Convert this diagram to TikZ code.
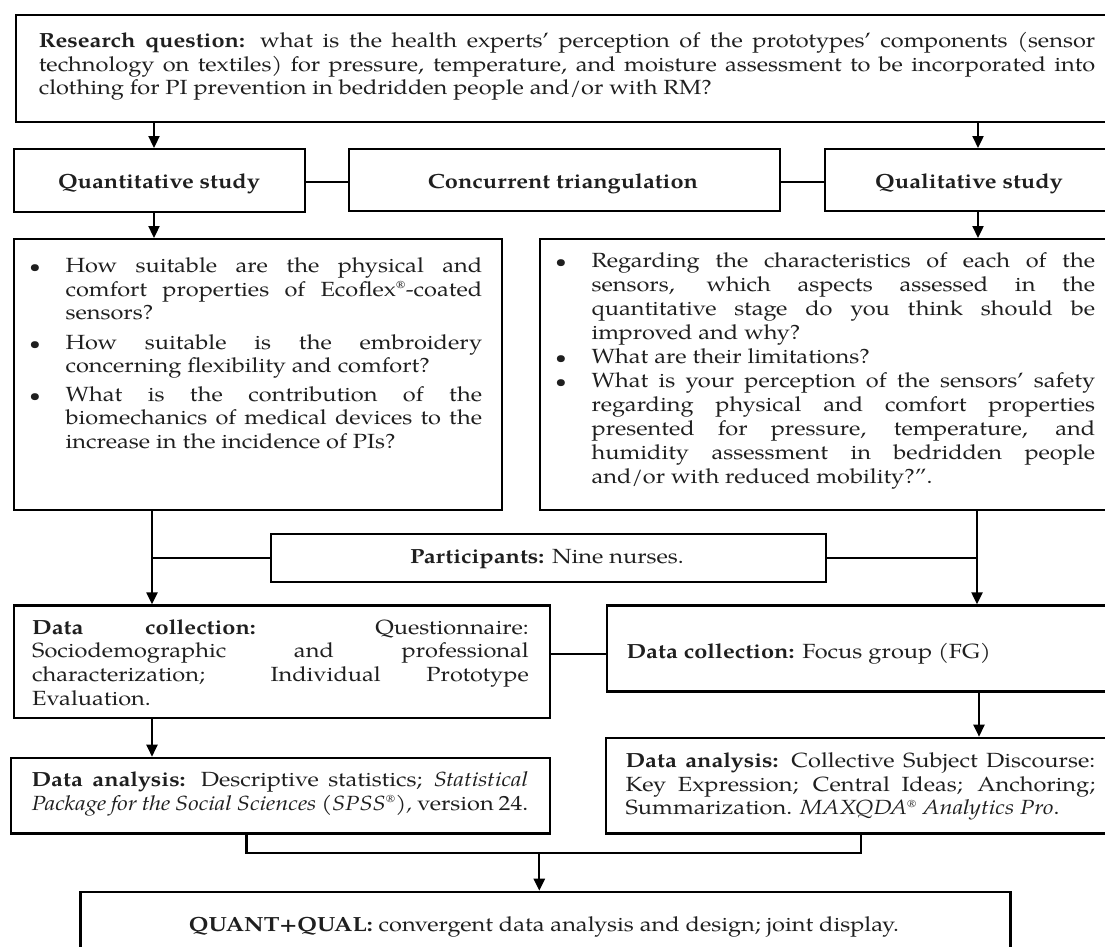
\documentclass[tikz,border=0pt]{standalone}
\usepackage{fontspec}
\setmainfont{texgyrepagella}[Extension=.otf, UprightFont=*-regular, BoldFont=*-bold, ItalicFont=*-italic, BoldItalicFont=*-bolditalic, FakeStretch=1.15]
\usetikzlibrary{arrows.meta}
\newcommand\JL[1]{\makebox[\linewidth][s]{#1}}
\newcommand\BUL{\leavevmode\llap{\scalebox{0.85}{\textbullet}\hspace{25pt}}}
\newcommand\REG{\textsuperscript{\scalebox{0.75}{®}}}
\newcommand\TB[3]{\parbox[t]{#1}{\fontsize{20.5pt}{#2}\selectfont #3}}
\newcommand\FSX{\fontsize{20.5pt}{23.5pt}\selectfont}
\tikzset{
  box/.style={draw=black, line width=2.3pt, fill=white, inner sep=0pt, anchor=north west},
  txt/.style={inner sep=0pt, anchor=base west, text=black!88},
  ctxt/.style={inner sep=0pt, anchor=base, text=black!88},
  ln/.style={line width=2.3pt},
  arr/.style={line width=2.3pt, -{Triangle[width=11pt,length=12pt]}}
}
\begin{document}
\begin{tikzpicture}[x=1pt,y=-1pt]
\useasboundingbox (0,0) rectangle (1105,946);
\fill[white] (0,0) rectangle (1105,946);
\clip (0,0) rectangle (1105,946);
% boxes
\node[box, minimum width=1120pt, minimum height=107pt] (R) at (15,14) {};
\node[box, minimum width=291pt, minimum height=63pt] (QS) at (12.5,148) {};
\node[box, minimum width=431pt, minimum height=62pt] (CT) at (348,148) {};
\node[box, minimum width=320pt, minimum height=62pt] (QL) at (823.6,148) {};
\node[box, minimum width=488.5pt, minimum height=271pt] (Q1) at (12.5,238) {};
\node[box, minimum width=590pt, minimum height=271pt] (Q2) at (539,238) {};
\node[box, minimum width=555pt, minimum height=48pt] (P) at (269.6,533) {};
\node[box, minimum width=536.5pt, minimum height=112.5pt] (DC1) at (12.5,604.3) {};
\node[box, minimum width=520pt, minimum height=86pt] (DC2) at (605.7,604.3) {};
\node[box, minimum width=539.4pt, minimum height=75.6pt] (DA1) at (9.6,756.7) {};
\node[box, minimum width=520pt, minimum height=95.6pt] (DA2) at (604.6,736.7) {};
\node[box, minimum width=930pt, minimum height=80pt] (QQ) at (79.3,890.7) {};
% texts
\node[txt] (tR) at (38.6,47.7) {\TB{1056.4pt}{23.3pt}{%
\JL{\textbf{Research question:} what is the health experts’ perception of the prototypes’ components (sensor}\\
\JL{technology on textiles) for pressure, temperature, and moisture assessment to be incorporated into}\\
clothing for PI prevention in bedridden people and/or with RM?}};
\node[ctxt] (tQS) at (159,188.3) {\FSX\textbf{Quantitative study}};
\node[ctxt] (tCT) at (563,188.3) {\FSX\textbf{Concurrent triangulation}};
\node[ctxt] (tQL) at (969,188.3) {\FSX\textbf{Qualitative study}};
\node[txt] (tQ1) at (65.4,272.7) {\TB{416.6pt}{23.5pt}{%
\BUL\JL{How suitable are the physical and}\\
\JL{comfort properties of Ecoflex\REG-coated}\\
sensors?\\[6pt]
\BUL\JL{How suitable is the embroidery}\\
concerning flexibility and comfort?\\[5pt]
\BUL\JL{What is the contribution of the}\\
\JL{biomechanics of medical devices to the}\\
increase in the incidence of PIs?}};
\node[txt] (tQ2) at (591.4,267) {\TB{503.6pt}{24pt}{%
\BUL\JL{Regarding the characteristics of each of the}\\
\JL{sensors, which aspects assessed in the}\\
\JL{quantitative stage do you think should be}\\
improved and why?\\
\BUL What are their limitations?\\
\BUL\JL{What is your perception of the sensors’ safety}\\
\JL{regarding physical and comfort properties}\\
\JL{presented for pressure, temperature, and}\\
\JL{humidity assessment in bedridden people}\\
and/or with reduced mobility?”.}};
\node[ctxt] (tP) at (547,563.3) {\FSX\textbf{Participants:} Nine nurses.};
\node[txt] (tDC1) at (32,634.3) {\TB{496.6pt}{23.6pt}{%
\JL{\textbf{Data collection:} Questionnaire:}\\
\JL{Sociodemographic and professional}\\
\JL{characterization; Individual Prototype}\\
Evaluation.}};
\node[txt] (tDC2) at (626.4,658.3) {\FSX\textbf{Data collection:} Focus group (FG)};
\node[txt] (tDA1) at (31.4,786.7) {\TB{496.6pt}{23.3pt}{%
\JL{\textbf{Data analysis:} Descriptive statistics; \textit{Statistical}}\\
\JL{\textit{Package for the Social Sciences (SPSS\REG),} version 24.}}};
\node[txt] (tDA2) at (625.4,767.5) {\TB{469.6pt}{23.7pt}{%
\JL{\textbf{Data analysis:} Collective Subject Discourse:}\\
\JL{Key Expression; Central Ideas; Anchoring;}\\
Summarization. \textit{MAXQDA\REG{} Analytics Pro}.}};
\node[ctxt] (tQQ) at (544,931.7) {\FSX\textbf{QUANT+QUAL:} convergent data analysis and design; joint display.};
% connectors
\draw[arr] (154,0 |- R.south) -- (154,0 |- QS.north);
\draw[arr] (978,0 |- R.south) -- (978,0 |- QL.north);
\draw[ln] (QS.east |- 0,182) -- (CT.west |- 0,182);
\draw[ln] (CT.east |- 0,182) -- (QL.west |- 0,182);
\draw[arr] (154,0 |- QS.south) -- (154,0 |- Q1.north);
\draw[arr] (978,0 |- QL.south) -- (978,0 |- Q2.north);
\coordinate (jL) at (152,558.3);
\coordinate (jR) at (977,558.3);
\draw[arr] (152,0 |- Q1.south) -- (152,0 |- DC1.north);
\draw[arr] (977,0 |- Q2.south) -- (977,0 |- DC2.north);
\draw[ln] (P.west |- jL) -- (jL);
\draw[ln] (P.east |- jR) -- (jR);
\draw[ln] (DC1.east |- 0,654) -- (DC2.west |- 0,654);
\draw[arr] (152,0 |- DC1.south) -- (152,0 |- DA1.north);
\draw[arr] (979,0 |- DC2.south) -- (979,0 |- DA2.north);
\coordinate (mL) at (246.4,853.3);
\coordinate (mR) at (861,853.3);
\coordinate (mC) at (539.3,853.3);
\draw[ln] (246.4,0 |- DA1.south) -- (mL) -- (mR) -- (861,0 |- DA2.south);
\draw[arr] (mC) -- (539.3,0 |- QQ.north);
\end{tikzpicture}
\end{document}
